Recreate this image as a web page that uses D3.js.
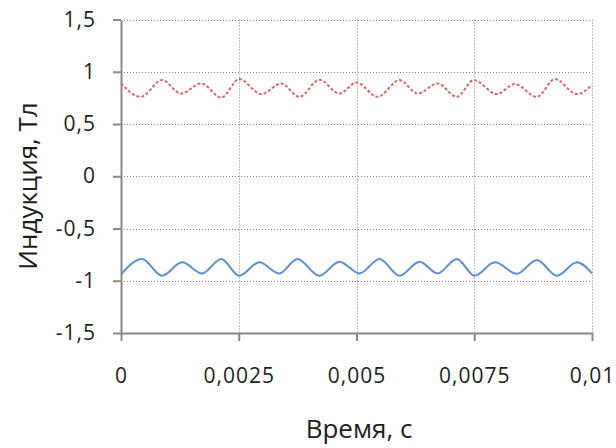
<!DOCTYPE html>
<html>
<head>
<meta charset="utf-8">
<script src="https://cdn.jsdelivr.net/npm/d3@7"></script>
<style>
  html, body { margin: 0; padding: 0; background: #fff; }
  svg { display: block; font-family: "Open Sans", sans-serif; }
</style>
</head>
<body>
<div id="app"></div>
<script>
// times (s) and induction (T) at the turning points
const redTime = [0, 0.000419, 0.000872, 0.001277, 0.001702, 0.002128, 0.002511, 0.002979, 0.003404,
  0.003787, 0.004213, 0.004638, 0.005, 0.005447, 0.005915, 0.006298, 0.006723, 0.007128, 0.007489,
  0.007979, 0.008362, 0.00883, 0.009213, 0.009681, 0.01];
const redValue = [0.888, 0.76, 0.92, 0.791, 0.888, 0.753, 0.93, 0.786, 0.888,
  0.76, 0.923, 0.791, 0.897, 0.76, 0.92, 0.791, 0.888, 0.76, 0.92,
  0.786, 0.882, 0.76, 0.93, 0.786, 0.875];

const blueTime = [0, 0.000447, 0.000872, 0.001298, 0.001723, 0.002128, 0.002511, 0.002936, 0.003362,
  0.003745, 0.004213, 0.004638, 0.005064, 0.005489, 0.005915, 0.00634, 0.006723, 0.007128, 0.007511,
  0.007936, 0.008404, 0.00883, 0.009255, 0.009681, 0.01];
const blueValue = [-0.939, -0.791, -0.952, -0.824, -0.93, -0.791, -0.952, -0.824, -0.93,
  -0.791, -0.952, -0.817, -0.93, -0.791, -0.952, -0.817, -0.93, -0.791, -0.952,
  -0.824, -0.933, -0.801, -0.952, -0.824, -0.93];

const xTicks = [0, 0.0025, 0.005, 0.0075, 0.01];
const yTicks = [-1.5, -1, -0.5, 0, 0.5, 1, 1.5];
const xTitle = 'Время, с';
const yTitle = 'Индукция, Тл';

const conf = { width: 616, height: 448, left: 121, right: 592, top: 19.5, bottom: 333 };
const axisColor = '#8a8a8a';
const fmt = d => String(d).replace('.', ',');

const svg = d3.select('#app').append('svg')
  .attr('width', conf.width)
  .attr('height', conf.height);

const x = d3.scaleLinear().domain([0, 0.01]).range([conf.left, conf.right]);
const y = d3.scaleLinear().domain([-1.5, 1.5]).range([conf.bottom, conf.top]);

// grid
const grid = svg.append('g')
  .attr('stroke', '#858585')
  .attr('stroke-width', 1)
  .attr('stroke-dasharray', '1,2');

grid.selectAll('.gx')
  .data(xTicks.filter(d => d > 0))
  .enter()
  .append('line')
  .attr('x1', d => Math.round(x(d)) + 0.5)
  .attr('x2', d => Math.round(x(d)) + 0.5)
  .attr('y1', conf.top)
  .attr('y2', conf.bottom);

grid.selectAll('.gy')
  .data(yTicks.filter(d => d > -1.5))
  .enter()
  .append('line')
  .attr('x1', conf.left)
  .attr('x2', conf.right)
  .attr('y1', d => Math.round(y(d)) + 0.5)
  .attr('y2', d => Math.round(y(d)) + 0.5);

// axes
const xAxis = svg.append('g')
  .attr('transform', `translate(0, ${conf.bottom})`)
  .call(d3.axisBottom(x).tickValues(xTicks).tickFormat(fmt).tickSize(8).tickSizeOuter(0).tickPadding(27));

const yAxis = svg.append('g')
  .attr('transform', `translate(${conf.left}, 0)`)
  .call(d3.axisLeft(y).tickValues(yTicks).tickFormat(fmt).tickSize(8).tickSizeOuter(0).tickPadding(17));

[xAxis, yAxis].forEach(a => {
  a.select('.domain').attr('stroke', axisColor).attr('stroke-width', 2);
  a.selectAll('.tick line').attr('stroke', axisColor).attr('stroke-width', 2);
  a.selectAll('.tick text')
    .attr('fill', '#1e1e1e')
    .style('font-size', '21px')
    .style('letter-spacing', '1px')
    .style('font-family', '"Open Sans", sans-serif');
});

// curves
const line = d3.line()
  .x(d => x(d[0]))
  .y(d => y(d[1]))
  .curve(d3.curveMonotoneX);

svg.append('path')
  .datum(redTime.map((t, i) => [t, redValue[i]]))
  .attr('d', line)
  .attr('fill', 'none')
  .attr('stroke', '#d9686a')
  .attr('stroke-width', 2)
  .attr('stroke-dasharray', '3,2');

svg.append('path')
  .datum(blueTime.map((t, i) => [t, blueValue[i]]))
  .attr('d', line)
  .attr('fill', 'none')
  .attr('stroke', '#5b8fd4')
  .attr('stroke-width', 2);

// titles
svg.append('text')
  .attr('x', 359)
  .attr('y', 438)
  .attr('text-anchor', 'middle')
  .attr('fill', '#1e1e1e')
  .style('font-size', '26px')
  .text(xTitle);

svg.append('text')
  .attr('transform', 'translate(37, 186) rotate(-90)')
  .attr('text-anchor', 'middle')
  .attr('fill', '#1e1e1e')
  .style('font-size', '26px')
  .text(yTitle);
</script>
</body>
</html>
